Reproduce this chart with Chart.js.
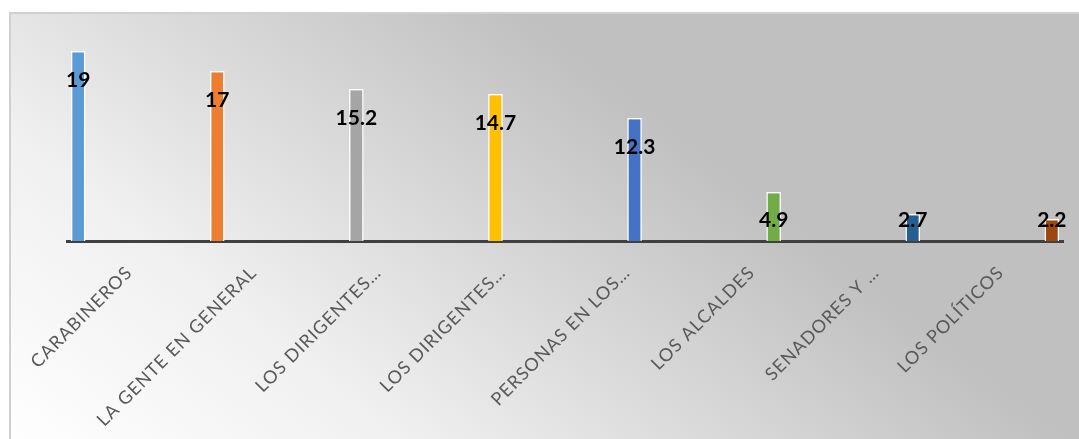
<!DOCTYPE html>
<html>
<head>
<meta charset="utf-8">
<script src="https://cdn.jsdelivr.net/npm/chart.js@4"></script>
<style>
  html, body { margin: 0; padding: 0; width: 1079px; height: 439px; overflow: hidden; background: #fff; }
  #frame {
    position: absolute; left: 9px; top: 12px; width: 1090px; height: 440px;
    border-left: 2px solid #d0d0d0; border-top: 2px solid #d0d0d0;
    background: linear-gradient(38deg, #ffffff 0%, #f0f0f0 25%, #c0c0c0 65%, #c0c0c0 100%);
  }
  #chart { position: absolute; left: 0; top: 0; }
</style>
</head>
<body>
<div id="frame"></div>
<canvas id="chart" width="1079" height="439"></canvas>
<script>
// categories and values
const categories = ["CARABINEROS", "LA GENTE EN GENERAL", "LOS DIRIGENTES…", "LOS DIRIGENTES…",
                    "PERSONAS EN LOS…", "LOS ALCALDES", "SENADORES Y …", "LOS POLÍTICOS"];
const values = [19, 17, 15.2, 14.7, 12.3, 4.9, 2.7, 2.2];
const colors = ["#5B9BD5", "#ED7D31", "#A5A5A5", "#FFC000", "#4472C4", "#70AD47", "#255E91", "#9E480E"];

// one series per category, like the excel sheet
const datasets = values.map((v, i) => ({
    label: categories[i],
    data: categories.map((c, j) => (j === i ? v : null)),
    backgroundColor: colors[i],
    borderColor: "#ffffff",
    borderWidth: 1.5,
    categoryPercentage: 0.938,
    barPercentage: 1
}));

// a bit of letter spacing for the axis labels
const spacing = {
    id: "spacing",
    beforeLayout(chart) { chart.ctx.letterSpacing = "1px"; },
    beforeDraw(chart) { chart.ctx.letterSpacing = "1px"; }
};

// value labels near the top of each bar
const valueLabels = {
    id: "valueLabels",
    afterDraw(chart) {
        const ctx = chart.ctx;
        const base = chart.scales.y.getPixelForValue(0);
        ctx.save();
        ctx.letterSpacing = "0px";
        ctx.font = "bold 21px Lato";
        ctx.fillStyle = "#000";
        ctx.textAlign = "center";
        ctx.textBaseline = "middle";
        chart.data.datasets.forEach((ds, i) => {
            const bar = chart.getDatasetMeta(i).data[i];
            ctx.fillText(String(values[i]), bar.x, Math.min(bar.y + 29, base - 21));
        });
        ctx.restore();
    }
};

new Chart(document.getElementById("chart"), {
    type: "bar",
    data: { labels: categories, datasets: datasets },
    plugins: [spacing, valueLabels],
    options: {
        responsive: false,
        animation: false,
        devicePixelRatio: 1,
        layout: { padding: { left: 67, right: 16, top: 41, bottom: 0 } },
        plugins: { legend: { display: false }, tooltip: { enabled: false } },
        scales: {
            x: {
                z: 1,
                grid: { display: false, drawTicks: false },
                border: { color: "#404040", width: 3 },
                ticks: {
                    autoSkip: false,
                    minRotation: 45,
                    maxRotation: 45,
                    padding: 21,
                    color: "#595959",
                    font: { family: "Lato", weight: 400, size: 18 }
                },
                afterFit(s) { s.height = 198; }
            },
            y: { display: false, min: 0, max: 20 }
        }
    }
});
</script>
</body>
</html>
